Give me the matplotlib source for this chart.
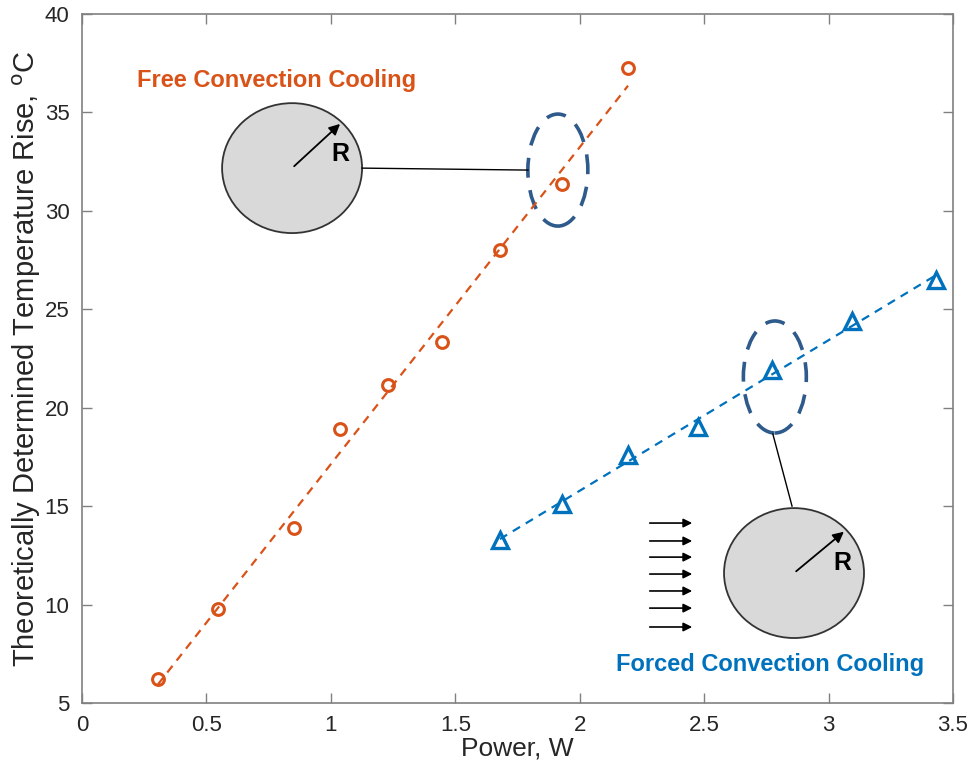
import numpy as np
import matplotlib.pyplot as plt
from matplotlib.patches import Ellipse

plt.rcParams['font.family'] = ['Liberation Sans', 'DejaVu Sans']

power = [0.305, 0.546, 0.852, 1.037, 1.229, 1.446, 1.679, 1.928, 2.194]
free_rise = [6.22, 9.77, 13.89, 18.92, 21.15, 23.33, 28.0, 31.36, 37.25]

power_forced = [1.679, 1.928, 2.194, 2.475, 2.772, 3.094, 3.431]
forced_rise = [13.3, 15.1, 17.6, 19.0, 21.9, 24.4, 26.5]

orange = "#D95319"
blue = "#0072BD"
ring = "#2E5A8C"
axcol = "#808080"
txtcol = "#262626"

fig = plt.figure(figsize=(9.71, 7.72), dpi=100)
ax = fig.add_axes([0.0845, 0.0894, 0.897, 0.8925])

# fit lines
p1 = np.polyfit(power, free_rise, 1)
xf = np.array([min(power), max(power)])
ax.plot(xf, np.polyval(p1, xf), '--', color=orange, lw=1.6, dashes=(3.8, 3))
p2 = np.polyfit(power_forced, forced_rise, 1)
xg = np.array([min(power_forced), max(power_forced)])
ax.plot(xg, np.polyval(p2, xg), '--', color=blue, lw=1.6, dashes=(3.8, 3))

ax.plot(power, free_rise, 'o', ms=8.5, mfc='none', mec=orange, mew=2.2)
ax.plot(power_forced, forced_rise, '^', ms=11, mfc='none', mec=blue, mew=2.4)

# dashed rings round the picked points
ax.add_patch(Ellipse((1.912, 32.07), 0.241, 5.69, fill=False, ec=ring,
                     lw=2.6, ls=(0, (5.5, 3.5))))
ax.add_patch(Ellipse((2.784, 21.56), 0.253, 5.69, fill=False, ec=ring,
                     lw=2.6, ls=(0, (5.5, 3.5))))

# free convection sketch
ax.plot([1.125, 1.792], [32.17, 32.07], color='k', lw=1)
ax.add_patch(Ellipse((0.844, 32.17), 0.5625, 6.6, fc='#D9D9D9', ec='#333333', lw=1.3))
ax.annotate("", xy=(1.045, 34.51), xytext=(0.844, 32.17),
            arrowprops=dict(arrowstyle='-|>', color='k', lw=1.3, mutation_scale=16))
ax.text(1.037, 32.9, "R", fontsize=18, fontweight='bold', ha='center', va='center')
ax.text(0.783, 36.64, "Free Convection Cooling", color=orange, fontsize=17,
        fontweight='bold', ha='center', va='center')

# forced convection sketch
ax.plot([2.776, 2.853], [18.66, 15.0], color='k', lw=1)
ax.add_patch(Ellipse((2.861, 11.6), 0.5625, 6.6, fc='#D9D9D9', ec='#333333', lw=1.3))
ax.annotate("", xy=(3.07, 13.79), xytext=(2.861, 11.6),
            arrowprops=dict(arrowstyle='-|>', color='k', lw=1.3, mutation_scale=16))
ax.text(3.057, 12.1, "R", fontsize=18, fontweight='bold', ha='center', va='center')
flow_y = [14.14, 13.23, 12.41, 11.55, 10.69, 9.82, 8.86]
for fy in flow_y:
    ax.annotate("", xy=(2.463, fy), xytext=(2.27, fy),
                arrowprops=dict(arrowstyle='-|>', color='k', lw=1.2, mutation_scale=13))
ax.text(2.766, 6.93, "Forced Convection Cooling", color=blue, fontsize=17,
        fontweight='bold', ha='center', va='center')

ax.set_xlim(0, 3.5)
ax.set_ylim(5, 40)
ax.set_xticks(np.arange(0, 3.51, 0.5))
ax.set_xticklabels(["0", "0.5", "1", "1.5", "2", "2.5", "3", "3.5"])
ax.set_yticks(range(5, 41, 5))
ax.tick_params(direction='in', length=7, width=1, colors=axcol, labelcolor=txtcol,
               labelsize=16, top=True, right=True, pad=9)
for s in ax.spines.values():
    s.set_color(axcol)
    s.set_linewidth(1.2)

ax.set_xlabel("Power, W", fontsize=19, color=txtcol, labelpad=0)
ax.set_ylabel("Theoretically Determined Temperature Rise, $^{\\mathrm{o}}$C",
              fontsize=21, color=txtcol, labelpad=1)

fig.savefig("out.png", dpi=100)
